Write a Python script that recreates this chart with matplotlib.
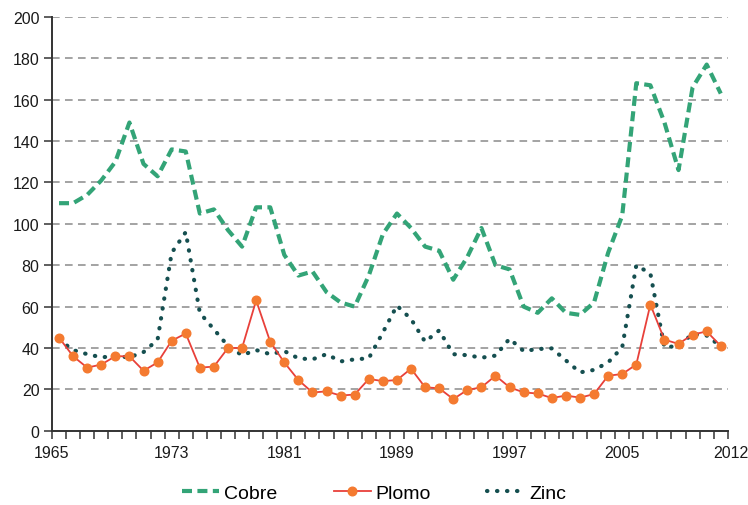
import matplotlib
matplotlib.use("Agg")
import matplotlib.pyplot as plt

plt.rcParams['font.family'] = ['Liberation Sans', 'DejaVu Sans']

years = list(range(1965, 2013))

cobre = [110, 110, 114, 121, 130, 149, 129, 123, 136, 135,
         105, 107, 97, 89, 108, 108, 85, 75, 77, 67,
         62, 60, 75, 95, 105, 98, 89, 87, 73, 84,
         98, 80, 78, 60, 57, 64, 57, 56, 62, 86,
         104, 168, 167, 149, 126, 166, 177, 163]

plomo = [45, 36, 30.5, 32, 36, 36, 29, 33, 43.5, 47,
         30.5, 31, 40, 40, 63, 43, 33, 24.5, 18.5, 19,
         17, 17.5, 25, 24, 24.5, 30, 21, 20.5, 15.3, 19.7,
         21, 26.6, 21, 18.5, 18, 15.8, 17, 16, 17.7, 26.6,
         27.4, 32, 61, 44, 42, 46.5, 48, 41]

zinc = [44, 39, 37, 35.5, 36, 35.5, 38, 44, 86, 96,
        57, 49, 41, 36.5, 39, 37, 38.5, 35, 34.5, 37,
        33.5, 34.5, 35, 47.5, 60.5, 54, 43, 48.5, 37, 36.5,
        35.3, 36.3, 44.5, 38.5, 39.5, 39.8, 34, 28.2, 29.4, 33,
        40.3, 80, 76, 40.3, 41, 46.8, 46, 40.8]

label_years = [1965, 1973, 1981, 1989, 1997, 2005, 2012]

fig = plt.figure(figsize=(7.48, 5.06), dpi=100)
ax = fig.add_axes([0.0695, 0.1468, 0.9035, 0.8176])

x = list(range(len(years)))

ax.plot(x, cobre, color='#33a477', lw=3, ls=(0, (2.4, 1.3)), label='Cobre', zorder=3)
ax.plot(x, plomo, color='#e8403a', lw=1.3, marker='o', markersize=6.2,
        markerfacecolor='#f47a30', markeredgecolor='#f47a30', label='Plomo', zorder=4)
ax.plot(x, zinc, color='#154f50', lw=3.0, ls=(0, (0.1, 2.3)), dash_capstyle='round',
        label='Zinc', zorder=3)

ax.set_xlim(-0.5, len(years) - 0.5)
ax.set_ylim(0, 200)
ax.set_yticks(range(0, 201, 20))
ax.yaxis.grid(True, color='#8a8a8a', ls=(0, (5, 3.5)), lw=1.1)
ax.set_axisbelow(True)

# category boundaries as ticks, labels at selected years
ax.set_xticks([i - 0.5 for i in range(len(years) + 1)])
ax.set_xticklabels([''] * (len(years) + 1))
for y in label_years:
    if y == years[0]:
        p = -0.5
    elif y == years[-1]:
        p = len(years) - 0.3
    else:
        p = years.index(y)
    ax.text(p, -7, str(y), ha='center', va='top', fontsize=11.5, color='#1a1a1a')

ax.tick_params(axis='x', direction='out', length=6, width=1.1, color='#333333')
ax.tick_params(axis='y', direction='out', length=6, width=1.1, color='#333333',
               labelsize=11.5, labelcolor='#1a1a1a', pad=3)

for s in ['top', 'right']:
    ax.spines[s].set_visible(False)
for s in ['left', 'bottom']:
    ax.spines[s].set_color('#333333')
    ax.spines[s].set_linewidth(1.4)

fig.legend(loc='center', bbox_to_anchor=(0.5, 12 / 506), ncol=3, frameon=False,
           fontsize=14, handlelength=1.9, columnspacing=2.9, handletextpad=0.25)

fig.savefig('out.png', dpi=100)
